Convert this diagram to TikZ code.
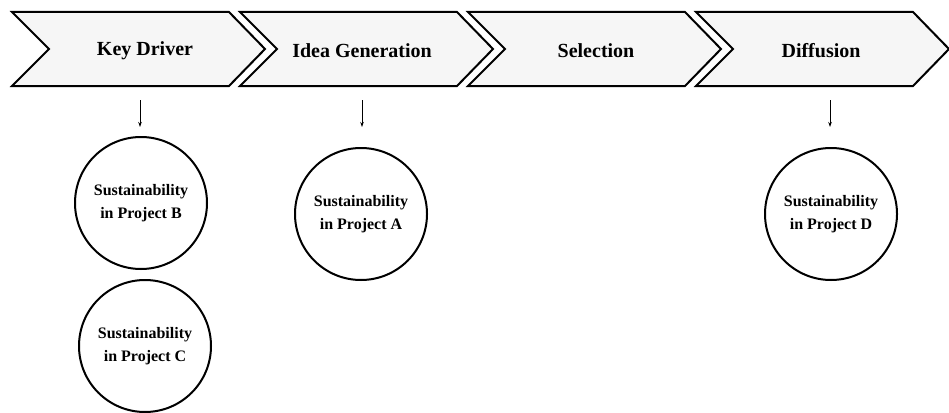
\documentclass[tikz,border=0pt]{standalone}
\usepackage{fontspec}
\setmainfont{Liberation Serif}
\usetikzlibrary{arrows.meta}
\begin{document}
\begin{tikzpicture}[x=1pt,y=-1pt,
  chev/.style={draw=black, line width=2pt, fill=gray!7, line join=miter},
  lbl/.style={font=\bfseries\fontsize{20}{24}\selectfont, inner sep=0pt},
  proj/.style={circle, draw, line width=2pt, minimum size=132pt, inner sep=0pt, align=center, font=\bfseries\fontsize{16}{23}\selectfont},
  link/.style={-{Stealth[length=5pt,width=3.5pt]}, line width=0.8pt}]
\useasboundingbox (0,0) rectangle (949,412);
\foreach \i in {0,...,3} {
  \pgfmathsetmacro\xo{12+228*\i}
  \draw[chev] (\xo,12) -- (\xo+217,12) -- (\xo+253,49) -- (\xo+217,86) -- (\xo,86) -- (\xo+37,49) -- cycle;
}
\node[lbl] (kd) at (145,51) {Key Driver};
\node[lbl] (ig) at (362,51) {Idea Generation};
\node[lbl] (se) at (596,51) {Selection};
\node[lbl] (di) at (821,51) {Diffusion};

\node[proj] (pb) at (141,203) {Sustainability\\in Project B};
\node[proj] (pc) at (145,346) {Sustainability\\in Project C};
\node[proj] (pa) at (361,214) {Sustainability\\in Project A};
\node[proj] (pd) at (831,214) {Sustainability\\in Project D};

\coordinate (a1s) at (140,100); \coordinate (a1e) at (140,127);
\coordinate (a2s) at (362,100); \coordinate (a2e) at (362,127);
\coordinate (a3s) at (830,100); \coordinate (a3e) at (830,127);
\draw[link] (a1s) -- (a1e);
\draw[link] (a2s) -- (a2e);
\draw[link] (a3s) -- (a3e);
\end{tikzpicture}
\end{document}
